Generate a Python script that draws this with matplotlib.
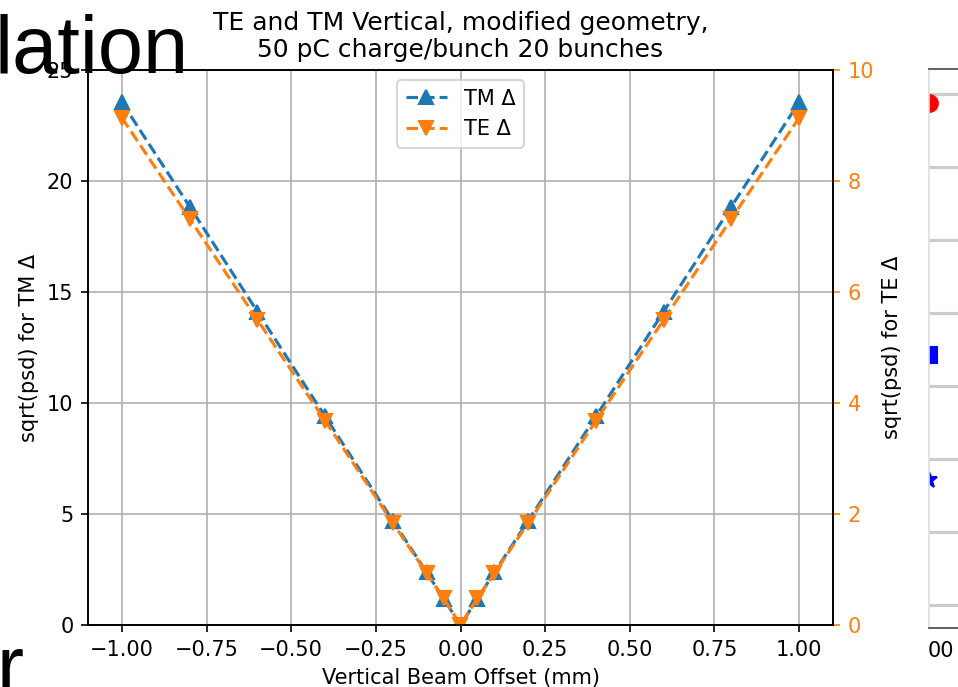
import matplotlib
matplotlib.use("Agg")
import matplotlib.pyplot as plt

# Beam offset positions (mm) and measured sqrt(psd) values
offsets = [-1.0, -0.8, -0.6, -0.4, -0.2, -0.1, -0.05, 0.0, 0.05, 0.1, 0.2, 0.4, 0.6, 0.8, 1.0]
tm_delta = [23.55, 18.85, 14.12, 9.40, 4.70, 2.37, 1.18, 0.0, 1.18, 2.37, 4.70, 9.40, 14.12, 18.85, 23.55]
te_delta = [9.14, 7.32, 5.50, 3.68, 1.84, 0.93, 0.48, 0.0, 0.48, 0.93, 1.84, 3.68, 5.50, 7.32, 9.14]

# Neighbouring slide panel (only its left edge shows)
side_y = [9.39, 4.88, 2.65]
side_marker = ['o', 's', '*']
side_color = ['red', 'blue', 'blue']
side_grid = [0.41, 1.72, 3.02, 4.33, 5.63, 6.94, 8.25, 9.55]

dpi = 150
fig = plt.figure(figsize=(958 / dpi, 687 / dpi), dpi=dpi)

# Main chart
ax = fig.add_axes([88 / 958, 62 / 687, 745 / 958, 555 / 687])
ax.plot(offsets, tm_delta, '--^', color='C0', markersize=6.5, label='TM Δ')
ax.set_ylim(0, 25)
ax.set_xlabel("Vertical Beam Offset (mm)")
ax.set_ylabel("sqrt(psd) for TM Δ")
ax.grid(True)
ax.set_title("TE and TM Vertical, modified geometry,\n50 pC charge/bunch 20 bunches")

ax2 = ax.twinx()
ax2.plot(offsets, te_delta, '--v', color='C1', markersize=6.5, label='TE Δ')
ax2.set_ylim(0, 10)
ax2.set_ylabel("sqrt(psd) for TE Δ")
ax2.tick_params(axis='y', colors='C1')

h1, l1 = ax.get_legend_handles_labels()
h2, l2 = ax2.get_legend_handles_labels()
ax2.legend(h1 + h2, l1 + l2, loc='upper center')

# Partial panel from the next slide on the right edge
side = fig.add_axes([929 / 958, 59 / 687, 80 / 958, 559 / 687])
for yv, mk, col in zip(side_y, side_marker, side_color):
    side.plot([0], [yv], marker=mk, color=col, markersize=8, linestyle='none')
side.set_xlim(0, 1)
side.set_ylim(0, 10)
side.set_yticks(side_grid)
side.set_yticklabels([])
side.tick_params(left=False, bottom=False)
side.set_xticks([])
side.grid(True, axis='y', color='#cccccc', linewidth=1.5)
for s in side.spines.values():
    s.set_color('#444444')
side.spines['left'].set_color('#dddddd')
fig.text(928 / 958, 1 - 651 / 687, "00", fontsize=10, va='center', ha='left')

# Fragments of the slide text overlapping the chart
fig.text(-0.006, 1 - 73 / 687, "lation", family='Liberation Sans', fontsize=39,
         va='baseline', ha='left', zorder=10)
fig.text(-0.004, 1 - 693 / 687, "r", family='Liberation Sans', fontsize=39,
         va='baseline', ha='left', zorder=10)

fig.savefig("out.png", dpi=dpi)
